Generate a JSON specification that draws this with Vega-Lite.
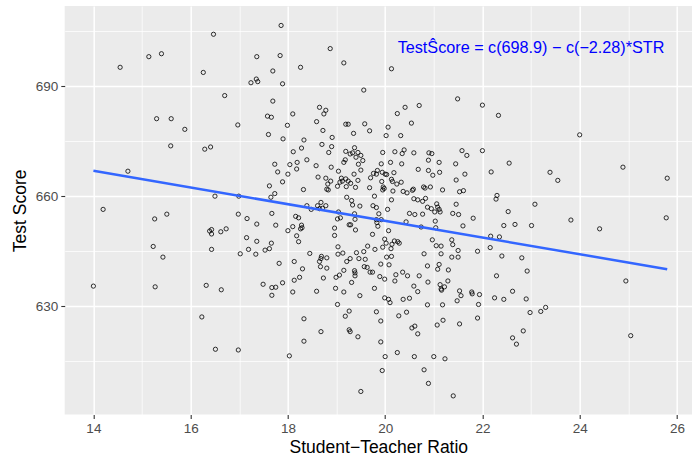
{
"$schema": "https://vega.github.io/schema/vega-lite/v6.json",
"width": 627.3, "height": 408.6,
"autosize": {"type": "none"},
"padding": {"left": 64.7, "top": 6, "right": 0, "bottom": 43.4},
"background": "white",
"config": {"view": {"fill": "#EBEBEB", "stroke": null}, "font": "Liberation Sans"},
"datasets": {
"pts": [
{"str":14.55,"score":695.1},{"str":15.14,"score":698.0},{"str":15.40,"score":698.8},{"str":16.47,"score":704.1},{"str":16.26,"score":693.7},{"str":17.24,"score":690.9},{"str":16.70,"score":687.4},{"str":15.30,"score":681.1},{"str":15.60,"score":681.1},{"str":15.88,"score":678.2},
{"str":16.97,"score":679.4},{"str":15.59,"score":673.7},{"str":16.29,"score":672.8},{"str":16.41,"score":673.4},{"str":14.71,"score":666.8},{"str":16.50,"score":660.0},{"str":16.99,"score":660.0},{"str":14.20,"score":656.4},{"str":15.51,"score":655.1},{"str":16.98,"score":655.1},
{"str":15.26,"score":653.8},{"str":17.16,"score":653.9},{"str":16.39,"score":650.5},{"str":16.43,"score":650.9},{"str":16.43,"score":649.7},{"str":16.62,"score":650.3},{"str":16.73,"score":651.1},{"str":17.15,"score":648.7},{"str":15.23,"score":646.3},{"str":16.43,"score":645.5},
{"str":17.02,"score":644.3},{"str":17.19,"score":645.5},{"str":15.43,"score":643.4},{"str":14.00,"score":635.5},{"str":15.27,"score":635.3},{"str":16.32,"score":635.7},{"str":16.63,"score":634.5},{"str":16.23,"score":627.1},{"str":16.51,"score":618.3},{"str":16.98,"score":618.1},
{"str":22.00,"score":684.8},{"str":22.33,"score":682.0},{"str":24.00,"score":676.7},{"str":22.00,"score":672.4},{"str":22.55,"score":669.0},{"str":22.18,"score":666.6},{"str":23.39,"score":666.5},{"str":23.55,"score":664.3},{"str":24.89,"score":667.9},{"str":25.80,"score":664.9},
{"str":22.30,"score":660.2},{"str":22.28,"score":659.2},{"str":23.08,"score":657.8},{"str":22.53,"score":655.8},{"str":22.44,"score":652.0},{"str":22.67,"score":652.3},{"str":23.01,"score":652.0},{"str":23.82,"score":653.5},{"str":24.41,"score":651.1},{"str":25.78,"score":654.1},
{"str":22.17,"score":649.1},{"str":22.35,"score":648.9},{"str":21.90,"score":645.0},{"str":22.16,"score":646.0},{"str":22.40,"score":643.7},{"str":22.81,"score":643.2},{"str":22.92,"score":639.6},{"str":22.29,"score":638.3},{"str":24.95,"score":636.9},{"str":21.94,"score":633.2},
{"str":21.92,"score":630.5},{"str":22.25,"score":632.3},{"str":22.44,"score":631.9},{"str":22.62,"score":634.1},{"str":22.90,"score":632.0},{"str":22.98,"score":628.3},{"str":23.20,"score":628.6},{"str":23.30,"score":629.7},{"str":21.90,"score":626.8},{"str":22.84,"score":623.3},
{"str":22.62,"score":621.4},{"str":22.70,"score":619.7},{"str":25.05,"score":622.0},{"str":17.86,"score":706.5},{"str":18.87,"score":700.2},{"str":17.36,"score":698.0},{"str":17.84,"score":698.3},{"str":18.26,"score":695.1},{"str":19.15,"score":696.3},{"str":17.69,"score":694.1},
{"str":17.35,"score":691.9},{"str":17.38,"score":691.2},{"str":17.89,"score":690.6},{"str":19.56,"score":688.9},{"str":17.69,"score":685.9},{"str":18.65,"score":684.2},{"str":18.78,"score":683.4},{"str":20.13,"score":694.7},{"str":20.41,"score":684.2},{"str":20.70,"score":684.7},
{"str":21.49,"score":686.5},{"str":17.58,"score":681.8},{"str":17.66,"score":681.5},{"str":18.10,"score":682.4},{"str":18.74,"score":682.4},{"str":17.99,"score":679.3},{"str":18.59,"score":680.3},{"str":19.19,"score":679.6},{"str":19.24,"score":679.6},{"str":19.58,"score":679.7},
{"str":17.60,"score":676.8},{"str":17.90,"score":675.6},{"str":18.72,"score":677.9},{"str":19.35,"score":677.1},{"str":18.33,"score":675.3},{"str":18.91,"score":676.0},{"str":18.70,"score":674.1},{"str":18.90,"score":673.5},{"str":18.28,"score":673.1},{"str":18.11,"score":672.1},
{"str":18.84,"score":671.9},{"str":19.37,"score":673.2},{"str":19.19,"score":672.2},{"str":19.28,"score":671.5},{"str":19.33,"score":671.8},{"str":19.44,"score":671.9},{"str":19.40,"score":670.6},{"str":19.50,"score":671.1},{"str":19.18,"score":669.9},{"str":19.15,"score":669.2},
{"str":19.54,"score":669.7},{"str":18.39,"score":669.9},{"str":18.19,"score":669.2},{"str":17.73,"score":668.7},{"str":18.04,"score":668.6},{"str":18.58,"score":668.3},{"str":18.89,"score":667.9},{"str":18.18,"score":667.4},{"str":19.45,"score":668.7},{"str":17.79,"score":666.6},
{"str":18.00,"score":666.0},{"str":19.04,"score":666.8},{"str":19.36,"score":666.0},{"str":19.50,"score":667.1},{"str":18.62,"score":665.2},{"str":18.78,"score":664.9},{"str":18.88,"score":664.1},{"str":18.82,"score":663.3},{"str":19.10,"score":664.9},{"str":19.12,"score":664.1},
{"str":19.19,"score":664.7},{"str":19.24,"score":664.1},{"str":19.07,"score":663.8},{"str":19.29,"score":663.5},{"str":19.44,"score":664.3},{"str":17.89,"score":663.9},{"str":17.62,"score":662.8},{"str":19.02,"score":662.7},{"str":19.20,"score":662.6},{"str":19.39,"score":662.4},
{"str":18.80,"score":661.9},{"str":18.83,"score":661.7},{"str":18.32,"score":661.8},{"str":17.73,"score":660.7},{"str":17.65,"score":659.7},{"str":19.21,"score":659.7},{"str":19.31,"score":658.8},{"str":19.33,"score":657.6},{"str":19.48,"score":657.3},{"str":18.68,"score":658.3},
{"str":18.61,"score":657.4},{"str":18.78,"score":657.4},{"str":18.39,"score":657.4},{"str":18.48,"score":656.4},{"str":18.65,"score":656.6},{"str":18.71,"score":656.7},{"str":19.04,"score":655.7},{"str":19.37,"score":655.2},{"str":17.67,"score":655.3},{"str":20.25,"score":682.5},
{"str":19.68,"score":677.8},{"str":20.06,"score":678.8},{"str":20.54,"score":679.9},{"str":20.02,"score":676.5},{"str":20.32,"score":676.5},{"str":19.95,"score":671.9},{"str":20.20,"score":672.1},{"str":20.35,"score":671.6},{"str":20.39,"score":672.6},{"str":20.59,"score":671.8},
{"str":20.90,"score":671.8},{"str":20.96,"score":671.6},{"str":21.58,"score":672.4},{"str":21.68,"score":671.1},{"str":19.92,"score":668.8},{"str":20.11,"score":669.2},{"str":20.34,"score":668.8},{"str":20.89,"score":669.8},{"str":21.11,"score":669.2},{"str":21.45,"score":668.8},
{"str":19.84,"score":667.0},{"str":19.76,"score":666.2},{"str":19.82,"score":666.0},{"str":19.94,"score":666.5},{"str":20.00,"score":666.0},{"str":20.03,"score":665.9},{"str":20.18,"score":666.4},{"str":20.68,"score":667.3},{"str":20.89,"score":667.0},{"str":21.12,"score":666.5},
{"str":20.98,"score":665.7},{"str":21.64,"score":666.0},{"str":19.70,"score":665.0},{"str":20.13,"score":664.6},{"str":20.15,"score":664.0},{"str":19.93,"score":664.0},{"str":20.24,"score":663.3},{"str":20.33,"score":663.8},{"str":21.46,"score":664.4},{"str":19.68,"score":662.3},
{"str":19.96,"score":662.5},{"str":19.98,"score":662.1},{"str":19.95,"score":661.7},{"str":20.16,"score":661.4},{"str":20.37,"score":661.3},{"str":20.45,"score":660.9},{"str":20.56,"score":661.6},{"str":20.58,"score":661.9},{"str":20.79,"score":662.5},{"str":20.82,"score":662.2},
{"str":20.93,"score":662.5},{"str":21.18,"score":661.7},{"str":21.53,"score":661.2},{"str":21.61,"score":661.5},{"str":19.78,"score":660.0},{"str":20.13,"score":659.0},{"str":20.59,"score":659.3},{"str":20.67,"score":659.0},{"str":20.77,"score":658.6},{"str":20.83,"score":659.4},
{"str":21.06,"score":657.9},{"str":21.08,"score":657.0},{"str":21.13,"score":655.7},{"str":21.11,"score":656.4},{"str":20.87,"score":657.0},{"str":20.95,"score":656.6},{"str":21.46,"score":657.8},{"str":19.75,"score":657.4},{"str":19.82,"score":656.9},{"str":20.05,"score":656.4},
{"str":21.02,"score":655.7},{"str":20.50,"score":655.3},{"str":20.61,"score":655.0},{"str":20.77,"score":655.1},{"str":21.39,"score":655.3},{"str":21.51,"score":655.0},{"str":19.87,"score":655.2},{"str":17.36,"score":652.4},{"str":17.75,"score":652.1},{"str":18.16,"score":654.5},
{"str":18.22,"score":654.1},{"str":18.10,"score":651.7},{"str":18.00,"score":650.6},{"str":18.28,"score":652.1},{"str":18.29,"score":651.4},{"str":18.26,"score":651.1},{"str":18.18,"score":649.2},{"str":18.22,"score":647.6},{"str":19.02,"score":653.8},{"str":19.08,"score":654.1},
{"str":18.96,"score":651.3},{"str":18.96,"score":649.3},{"str":19.26,"score":652.2},{"str":19.29,"score":652.2},{"str":19.39,"score":650.8},{"str":19.38,"score":653.7},{"str":17.36,"score":647.7},{"str":17.66,"score":647.2},{"str":17.62,"score":645.7},{"str":17.53,"score":645.3},
{"str":17.34,"score":644.2},{"str":19.03,"score":646.2},{"str":18.45,"score":644.4},{"str":18.69,"score":643.6},{"str":18.68,"score":643.0},{"str":18.80,"score":643.2},{"str":18.65,"score":642.2},{"str":19.03,"score":644.2},{"str":19.13,"score":644.5},{"str":19.41,"score":644.6},
{"str":19.56,"score":644.9},{"str":19.21,"score":642.2},{"str":19.28,"score":643.0},{"str":19.46,"score":643.0},{"str":19.57,"score":640.8},{"str":17.82,"score":641.7},{"str":18.13,"score":642.2},{"str":18.67,"score":640.8},{"str":18.80,"score":640.4},{"str":18.30,"score":640.2},
{"str":19.15,"score":639.8},{"str":19.37,"score":639.7},{"str":19.38,"score":639.1},{"str":19.38,"score":638.3},{"str":19.06,"score":638.5},{"str":18.99,"score":637.9},{"str":18.24,"score":637.9},{"str":18.73,"score":637.7},{"str":18.13,"score":637.1},{"str":19.31,"score":636.5},
{"str":17.49,"score":636.0},{"str":17.89,"score":636.4},{"str":17.67,"score":635.1},{"str":17.75,"score":635.2},{"str":17.67,"score":633.0},{"str":18.10,"score":633.9},{"str":18.59,"score":634.1},{"str":18.98,"score":634.9},{"str":19.15,"score":633.9},{"str":19.48,"score":632.9},
{"str":19.02,"score":630.5},{"str":19.26,"score":628.7},{"str":19.18,"score":627.3},{"str":18.33,"score":626.6},{"str":19.82,"score":653.6},{"str":19.92,"score":653.6},{"str":19.83,"score":652.8},{"str":19.85,"score":651.8},{"str":20.07,"score":650.6},{"str":20.43,"score":653.0},
{"str":21.03,"score":653.2},{"str":20.74,"score":651.6},{"str":21.04,"score":651.4},{"str":21.60,"score":651.9},{"str":21.81,"score":654.0},{"str":19.74,"score":649.6},{"str":19.99,"score":648.3},{"str":20.02,"score":647.2},{"str":20.19,"score":647.8},{"str":20.26,"score":647.6},
{"str":20.29,"score":647.2},{"str":20.14,"score":646.9},{"str":19.95,"score":646.1},{"str":20.12,"score":645.7},{"str":19.64,"score":646.4},{"str":19.79,"score":645.5},{"str":20.97,"score":648.1},{"str":21.05,"score":646.5},{"str":21.15,"score":646.4},{"str":21.37,"score":648.1},
{"str":21.39,"score":646.8},{"str":21.50,"score":645.2},{"str":20.80,"score":644.3},{"str":21.15,"score":644.3},{"str":20.03,"score":643.4},{"str":20.13,"score":643.6},{"str":21.37,"score":643.4},{"str":21.50,"score":643.4},{"str":19.59,"score":642.8},{"str":19.91,"score":641.5},
{"str":20.08,"score":641.3},{"str":19.63,"score":640.6},{"str":20.87,"score":641.0},{"str":21.11,"score":641.4},{"str":21.08,"score":640.1},{"str":21.30,"score":639.9},{"str":19.69,"score":639.3},{"str":19.74,"score":639.3},{"str":19.89,"score":638.1},{"str":19.99,"score":637.4},
{"str":20.22,"score":638.6},{"str":20.36,"score":639.3},{"str":20.46,"score":638.3},{"str":20.70,"score":638.3},{"str":20.20,"score":636.9},{"str":20.88,"score":636.6},{"str":21.29,"score":636.9},{"str":21.13,"score":635.9},{"str":21.15,"score":634.7},{"str":21.16,"score":634.4},
{"str":21.22,"score":635.3},{"str":20.59,"score":635.5},{"str":20.67,"score":634.0},{"str":19.78,"score":634.9},{"str":21.53,"score":634.2},{"str":21.56,"score":632.9},{"str":21.78,"score":633.9},{"str":21.79,"score":633.4},{"str":19.99,"score":632.3},{"str":20.07,"score":631.9},
{"str":20.10,"score":631.0},{"str":20.37,"score":631.9},{"str":20.50,"score":632.2},{"str":20.87,"score":630.4},{"str":21.18,"score":630.4},{"str":21.48,"score":631.5},{"str":19.82,"score":628.5},{"str":20.28,"score":627.4},{"str":20.44,"score":628.4},{"str":19.91,"score":626.0},
{"str":21.19,"score":626.2},{"str":18.68,"score":623.1},{"str":18.33,"score":620.5},{"str":18.03,"score":616.5},{"str":19.26,"score":623.6},{"str":19.28,"score":623.1},{"str":19.44,"score":621.7},{"str":19.50,"score":606.8},{"str":20.55,"score":624.1},{"str":20.61,"score":624.6},
{"str":20.67,"score":622.5},{"str":21.07,"score":624.9},{"str":21.53,"score":625.2},{"str":19.91,"score":620.3},{"str":20.00,"score":616.3},{"str":20.25,"score":617.4},{"str":20.60,"score":616.3},{"str":21.00,"score":616.3},{"str":21.23,"score":615.7},{"str":19.94,"score":612.5},
{"str":20.80,"score":612.7},{"str":20.89,"score":609.0},{"str":21.40,"score":605.6}
],
"fit": [{"str":14.0,"score":666.9},{"str":25.8,"score":640.1}],
"lab": [{"str":23.0,"score":700.3,"text":"TestŜcore = c(698.9) − c(−2.28)*STR"}]
},
"layer": [
{"data": {"name": "pts"},
 "mark": {"type": "point", "shape": "circle", "filled": false, "stroke": "black", "strokeWidth": 0.8, "size": 18, "opacity": 1},
 "encoding": {
  "x": {"field": "str", "type": "quantitative", "title": "Student−Teacher Ratio",
        "scale": {"domain": [13.41, 26.31], "nice": false, "zero": false},
        "axis": {"values": [14,15,16,17,18,19,20,21,22,23,24,25,26],
                 "labelExpr": "datum.value % 2 === 0 ? datum.label : ''",
                 "labelOverlap": false, "labelFlush": false,
                 "grid": true, "gridColor": "white",
                 "gridWidth": {"condition": {"test": "datum.value % 2 === 1", "value": 0.75}, "value": 1.5},
                 "tickOpacity": {"condition": {"test": "datum.value % 2 === 1", "value": 0}, "value": 1},
                 "tickColor": "#333333", "tickSize": 3.9, "tickWidth": 1.1, "domain": false,
                 "labelColor": "#4D4D4D", "labelFontSize": 13.5, "labelPadding": 3,
                 "titleFontSize": 17.5, "titleFontWeight": "normal", "titleColor": "black", "titlePadding": 3}},
  "y": {"field": "score", "type": "quantitative", "title": "Test Score",
        "scale": {"domain": [600.5, 711.8], "nice": false, "zero": false},
        "axis": {"values": [615,630,645,660,675,690,705],
                 "labelExpr": "datum.value % 30 === 0 ? datum.label : ''",
                 "labelOverlap": false, "labelFlush": false,
                 "grid": true, "gridColor": "white",
                 "gridWidth": {"condition": {"test": "datum.value % 30 !== 0", "value": 0.75}, "value": 1.5},
                 "tickOpacity": {"condition": {"test": "datum.value % 30 !== 0", "value": 0}, "value": 1},
                 "tickColor": "#333333", "tickSize": 3.9, "tickWidth": 1.1, "domain": false,
                 "labelColor": "#4D4D4D", "labelFontSize": 13.5, "labelPadding": 3,
                 "titleFontSize": 17.5, "titleFontWeight": "normal", "titleColor": "black", "titlePadding": 6}}
 }},
{"data": {"name": "fit"},
 "mark": {"type": "line", "color": "#3366FF", "strokeWidth": 2.5},
 "encoding": {"x": {"field": "str", "type": "quantitative"}, "y": {"field": "score", "type": "quantitative"}}},
{"data": {"name": "lab"},
 "mark": {"type": "text", "color": "blue", "fontSize": 16.2, "align": "center", "baseline": "middle", "font": "Liberation Sans"},
 "encoding": {"x": {"field": "str", "type": "quantitative"}, "y": {"field": "score", "type": "quantitative"}, "text": {"field": "text"}}}
]
}
